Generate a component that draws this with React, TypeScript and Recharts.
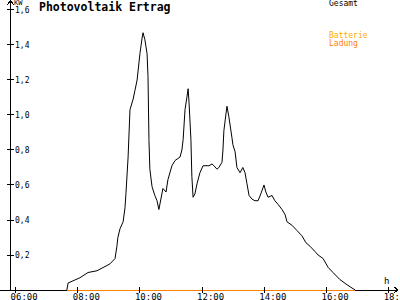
import React from 'react';
import { LineChart, Line, XAxis, YAxis, ReferenceLine } from 'recharts';

// Gesamt (kW) over time of day (hours)
const gesamtTime = [
  7.65, 7.69, 8.07, 8.33, 8.62, 8.94, 9.04, 9.2, 9.26, 9.29, 9.36, 9.46, 9.52, 9.55, 9.62, 9.68,
  9.78, 9.84, 9.91, 10.0, 10.07, 10.1, 10.16, 10.23, 10.26, 10.29, 10.32, 10.39, 10.48, 10.55,
  10.61, 10.74, 10.84, 10.9, 11.03, 11.13, 11.29, 11.35, 11.39, 11.45, 11.51, 11.55, 11.58, 11.64,
  11.67, 11.71, 11.77, 11.84, 11.93, 12.03, 12.16, 12.22, 12.32, 12.38, 12.48, 12.54, 12.64, 12.67,
  12.7, 12.77, 12.8, 12.86, 12.96, 12.99, 13.06, 13.12, 13.22, 13.31, 13.38, 13.44, 13.51, 13.6,
  13.7, 13.8, 13.89, 13.99, 14.05, 14.12, 14.25, 14.34, 14.44, 14.57, 14.67, 14.73, 14.89, 15.05,
  15.21, 15.34, 15.47, 15.63, 15.73, 15.89, 16.05, 16.21, 16.43, 16.66, 16.92,
];
const gesamtKw = [
  0, 0.04, 0.07, 0.1, 0.11, 0.14, 0.15, 0.18, 0.25, 0.3, 0.35, 0.39, 0.47, 0.55, 0.76, 1.03,
  1.09, 1.14, 1.2, 1.35, 1.44, 1.47, 1.43, 1.35, 1.22, 0.86, 0.69, 0.59, 0.54, 0.51,
  0.46, 0.58, 0.56, 0.63, 0.71, 0.74, 0.76, 0.8, 0.86, 1.03, 1.1, 1.15, 1.07, 0.86,
  0.65, 0.53, 0.55, 0.61, 0.67, 0.71, 0.71, 0.71, 0.72, 0.71, 0.69, 0.7, 0.73, 0.8,
  0.91, 1.01, 1.05, 0.99, 0.87, 0.83, 0.79, 0.7, 0.67, 0.7, 0.67, 0.61, 0.54, 0.52,
  0.51, 0.51, 0.55, 0.6, 0.56, 0.53, 0.54, 0.51, 0.49, 0.46, 0.43, 0.39, 0.37, 0.34,
  0.31, 0.27, 0.25, 0.22, 0.2, 0.18, 0.13, 0.1, 0.06, 0.03, 0,
];

// Batterie Ladung
const ladungTime = [7.65, 16.92];
const ladungKw = [0, 0];

const xTicks = [6, 8, 10, 12, 14, 16, 18];
const yTicks = [0.2, 0.4, 0.6, 0.8, 1.0, 1.2, 1.4, 1.6];

const X_DOMAIN: [number, number] = [5.5, 18.3];
// a little room under zero so the baseline is not clipped
const Y_DOMAIN: [number, number] = [-0.0057, 1.6571];
const Y_AXIS_AT = 5.838;

const FONT = '"DejaVu Sans Mono", monospace';
const ORANGE = '#ff8000';
const ORANGE_LIGHT = '#ffaa00';

// merge both series on a shared time column
const times = Array.from(new Set([...gesamtTime, ...ladungTime])).sort((a, b) => a - b);
const chartData = times.map((t) => {
  const gi = gesamtTime.indexOf(t);
  const li = ladungTime.indexOf(t);
  return { t, gesamt: gi >= 0 ? gesamtKw[gi] : null, ladung: li >= 0 ? ladungKw[li] : null };
});

const ladungStart = ladungTime[0];
const ladungEnd = ladungTime[ladungTime.length - 1];

const XTick = ({ x, y, payload }: any) => {
  const label = `${String(payload.value).padStart(2, '0')}:00`;
  return (
    <g>
      <line x1={x} x2={x} y1={y - 4} y2={y + 2} stroke="#000" shapeRendering="crispEdges" />
      <text x={x - 5} y={y + 8.5} fontFamily={FONT} fontSize={9} fill="#000">{label}</text>
    </g>
  );
};

const YTick = ({ y, payload }: any) => {
  const label = Number(payload.value).toFixed(1).replace('.', ',');
  return (
    <g>
      <line x1={7} x2={14} y1={y} y2={y} stroke="#000" shapeRendering="crispEdges" />
      <text x={15} y={y + 3} fontFamily={FONT} fontSize={8} fill="#000" textAnchor="start">{label}</text>
    </g>
  );
};

const UpArrow = ({ viewBox }: any) => (
  <path
    d={`M${viewBox.x - 3},${viewBox.y + 5} L${viewBox.x},${viewBox.y} L${viewBox.x + 3},${viewBox.y + 5}`}
    stroke="#000" fill="none" shapeRendering="crispEdges"
  />
);

const RightArrow = ({ viewBox }: any) => {
  const x = viewBox.x + viewBox.width;
  const y = viewBox.y;
  return <path d={`M${x - 4},${y - 3} L${x},${y} L${x - 4},${y + 3}`} stroke="#000" fill="none" shapeRendering="crispEdges" />;
};

const textStyle: React.CSSProperties = { position: 'absolute', fontFamily: FONT, lineHeight: 1, whiteSpace: 'nowrap' };

export default function App() {
  return (
    <div style={{ position: 'absolute', left: 0, top: 0, width: 400, height: 300, background: '#fff', overflow: 'hidden' }}>
      <LineChart width={400} height={300} data={chartData} margin={{ top: 0, right: 2, bottom: 0, left: 0 }}>
        <XAxis
          dataKey="t"
          type="number"
          domain={X_DOMAIN}
          ticks={xTicks}
          height={9}
          axisLine={false}
          tickLine={false}
          tickSize={0}
          tickMargin={0}
          tick={<XTick />}
          interval={0}
        />
        <YAxis
          type="number"
          domain={Y_DOMAIN}
          ticks={yTicks}
          mirror
          width={30}
          axisLine={false}
          tickLine={false}
          tick={<YTick />}
          interval={0}
        />
        <ReferenceLine x={Y_AXIS_AT} stroke="#000" shapeRendering="crispEdges" label={<UpArrow />} />
        {/* x axis: black where no Ladung line is drawn over it */}
        <ReferenceLine segment={[{ x: X_DOMAIN[0], y: 0 }, { x: ladungStart, y: 0 }]} stroke="#000" shapeRendering="crispEdges" />
        <ReferenceLine segment={[{ x: ladungEnd, y: 0 }, { x: X_DOMAIN[1], y: 0 }]} stroke="#000" shapeRendering="crispEdges" label={<RightArrow />} />
        <Line
          dataKey="gesamt"
          stroke="#000"
          strokeWidth={1}
          dot={false}
          activeDot={false}
          type="linear"
          connectNulls
          isAnimationActive={false}
        />
        <Line
          dataKey="ladung"
          stroke={ORANGE}
          strokeWidth={1}
          shapeRendering="crispEdges"
          dot={false}
          activeDot={false}
          type="linear"
          connectNulls
          isAnimationActive={false}
        />
      </LineChart>
      <div style={{ ...textStyle, left: 39, top: 2, fontSize: 11.5, fontWeight: 'bold' }}>Photovoltaik Ertrag</div>
      <div style={{ ...textStyle, left: 14, top: 0, fontSize: 7 }}>KW</div>
      <div style={{ ...textStyle, left: 384, top: 277, fontSize: 9 }}>h</div>
      <div style={{ ...textStyle, left: 329, top: 0, fontSize: 8 }}>Gesamt</div>
      <div style={{ ...textStyle, left: 329, top: 32, fontSize: 8, color: ORANGE_LIGHT }}>Batterie</div>
      <div style={{ ...textStyle, left: 329, top: 40, fontSize: 8, color: ORANGE }}>Ladung</div>
    </div>
  );
}
